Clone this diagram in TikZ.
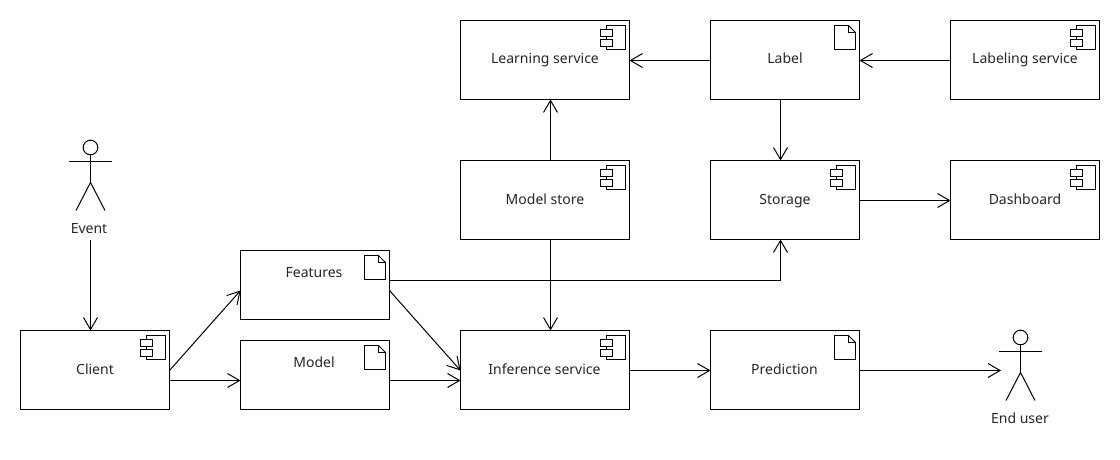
\documentclass[tikz,border=0pt]{standalone}
\usepackage{fontspec}
\setmainfont{Noto Sans}
\usetikzlibrary{arrows.meta}

\tikzset{
  box/.style={draw, line width=1pt, anchor=north west, inner sep=0pt, outer sep=0pt},
  link/.style={line width=1pt, -{Straight Barb[length=12pt,width=14pt,line width=1pt]}},
  lbl/.style={inner sep=0pt, anchor=base, font=\fontsize{14}{16}\selectfont, text=black!85},
  compicon/.pic={
    \draw[line width=0.9pt] (-23,5) rectangle (-4,28.5);
    \draw[line width=0.9pt,fill=white] (-29,9) rectangle (-17,16);
    \draw[line width=0.9pt,fill=white] (-29,19) rectangle (-17,26);
  },
  docicon/.pic={
    \draw[line width=0.9pt] (-25,5) -- (-11,5) -- (-4,12) -- (-4,29) -- (-25,29) -- cycle;
    \draw[line width=0.9pt] (-11,5) -- (-11,12) -- (-4,12);
  },
  actor/.pic={
    \draw[line width=1pt] (0,-14) circle [radius=7.3];
    \draw[line width=1pt] (0,-6.7) -- (0,21) (-21.5,0) -- (21.5,0);
    \draw[line width=1pt] (-14.5,49) -- (0,21) -- (14.5,49);
  },
}

\begin{document}
\begin{tikzpicture}[x=1pt,y=-1pt]

\useasboundingbox (0,0) rectangle (1120,460);

% boxes
\node[box, minimum width=169pt, minimum height=79pt] (learning) at (460.5,20.5) {};
\node[box, minimum width=149pt, minimum height=79pt] (label) at (710.5,20.5) {};
\node[box, minimum width=149pt, minimum height=79pt] (labeling) at (950.5,20.5) {};
\node[box, minimum width=169pt, minimum height=79pt] (store) at (460.5,160.5) {};
\node[box, minimum width=149pt, minimum height=79pt] (storage) at (710.5,160.5) {};
\node[box, minimum width=149pt, minimum height=79pt] (dashboard) at (950.5,160.5) {};
\node[box, minimum width=149pt, minimum height=69pt] (features) at (240.5,250.5) {};
\node[box, minimum width=149pt, minimum height=69pt] (model) at (240.5,340.5) {};
\node[box, minimum width=149pt, minimum height=79pt] (client) at (20.5,330.5) {};
\node[box, minimum width=169pt, minimum height=79pt] (inference) at (460.5,330.5) {};
\node[box, minimum width=149pt, minimum height=79pt] (prediction) at (710.5,330.5) {};

% icons
\foreach \n in {learning,labeling,store,storage,dashboard,client,inference}
  \pic at (\n.north east) {compicon};
\foreach \n in {label,features,model,prediction}
  \pic at (\n.north east) {docicon};

% actors
\pic at (90.5,161.5) {actor};
\pic at (1020.5,351.5) {actor};

% labels
\node[lbl] (learningtxt) at (545,64) {Learning service};
\node[lbl] (labeltxt) at (785,64) {Label};
\node[lbl] (labelingtxt) at (1025,64) {Labeling service};
\node[lbl] (storetxt) at (545,204) {Model store};
\node[lbl] (storagetxt) at (785,204) {Storage};
\node[lbl] (dashboardtxt) at (1025,204) {Dashboard};
\node[lbl] (featurestxt) at (314,277) {Features};
\node[lbl] (modeltxt) at (314,367) {Model};
\node[lbl] (clienttxt) at (95,374) {Client};
\node[lbl] (inferencetxt) at (544.5,374) {Inference service};
\node[lbl] (predictiontxt) at (784.5,374) {Prediction};
\node[lbl] (event) at (89,233) {Event};
\node[lbl] (enduser) at (1020,423) {End user};
\coordinate (eventout) at (90.5,240);
\coordinate (enduserin) at (1001,370.5);

% connectors
\draw[link] (eventout) -- (client.north -| eventout);
\draw[link] ([yshift=-.5pt]client.east) -- ([yshift=-5.5pt]features.west);
\draw[link] ([yshift=-10.5pt]client.east) -- ([yshift=-5.5pt]model.west);
\draw[link] ([yshift=-5.5pt]features.east) -- ([yshift=-.5pt]inference.west);
\draw[link] ([yshift=-5.5pt]model.east) -- ([yshift=-10.5pt]inference.west);
\draw[link] ([xshift=5.5pt]store.south) -- ([xshift=5.5pt]inference.north);
\draw[link] ([xshift=5.5pt]store.north) -- ([xshift=5.5pt]learning.south);
\draw[link] ([yshift=-.5pt]label.west) -- ([yshift=-.5pt]learning.east);
\draw[link] ([yshift=-.5pt]labeling.west) -- ([yshift=-.5pt]label.east);
\draw[link] ([xshift=-4.5pt]label.south) -- ([xshift=-4.5pt]storage.north);
\draw[link] ([yshift=-.5pt]storage.east) -- ([yshift=-.5pt]dashboard.west);
\draw[link] ([yshift=4.5pt]features.east) -| ([xshift=-4.5pt]storage.south);
\draw[link] ([yshift=-.5pt]inference.east) -- ([yshift=-.5pt]prediction.west);
\draw[link] ([yshift=-.5pt]prediction.east) -- (enduserin);

\end{tikzpicture}
\end{document}
